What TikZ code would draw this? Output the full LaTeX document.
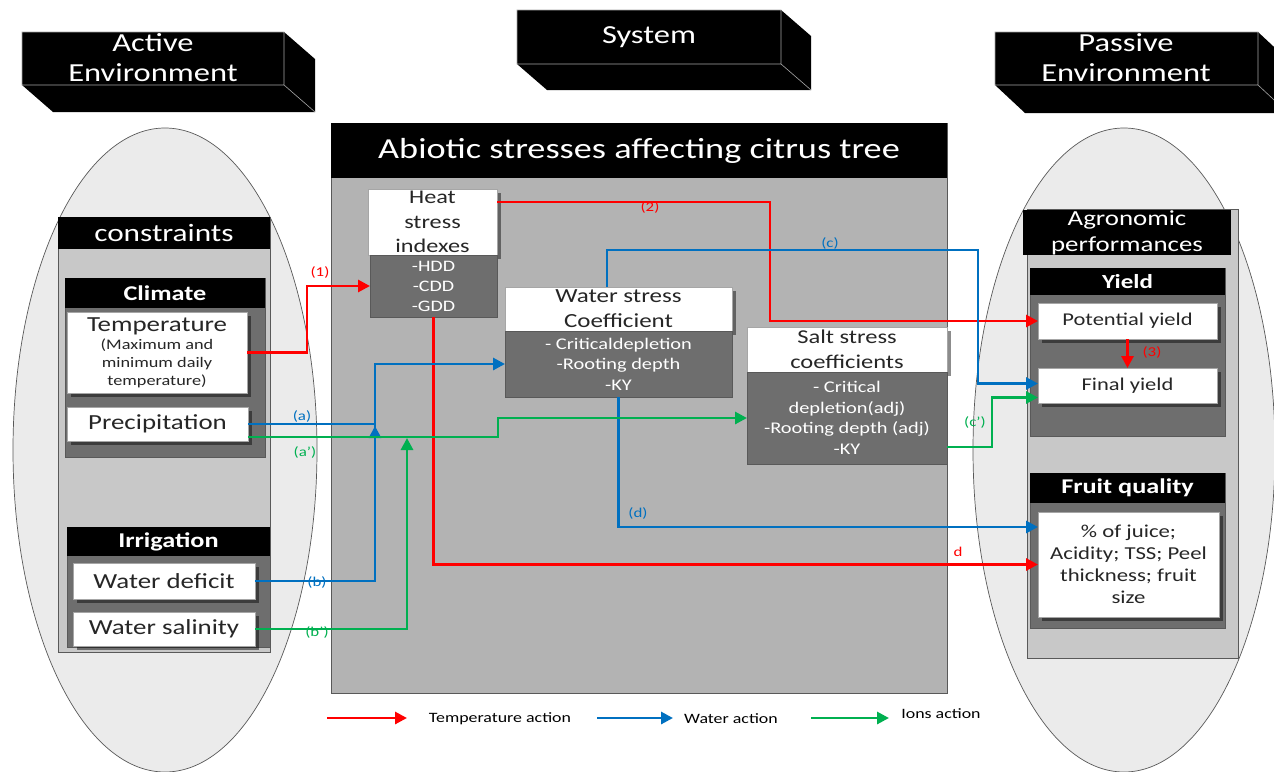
\documentclass[tikz,border=0pt]{standalone}
\usepackage{fontspec}
\setmainfont[FakeStretch=1.25]{Carlito}
\usetikzlibrary{arrows.meta,shadows}
\definecolor{tred}{HTML}{FF0000}
\definecolor{wblue}{HTML}{0070C0}
\definecolor{igreen}{HTML}{00B050}
\definecolor{panelc}{HTML}{C8C8C8}
\definecolor{grpc}{HTML}{6E6E6E}
\definecolor{bodyc}{HTML}{B3B3B3}
\definecolor{ellc}{HTML}{EBEBEB}
\definecolor{edgec}{HTML}{595959}
\newcommand\fsz[2]{\fontsize{#1}{#2}\selectfont}
\begin{document}
\begin{tikzpicture}[x=1pt,y=-1pt,
  every node/.style={inner sep=0pt,outer sep=0pt},
  wbox/.style={draw=gray!70,line width=0.6pt,fill=white,text=black!85,align=center,
    drop shadow={shadow xshift=4pt,shadow yshift=-4pt,fill=black,opacity=0.45}},
  dbox/.style={draw=edgec,line width=0.6pt,fill=grpc,text=white,align=center},
  bhdr/.style={fill=black,text=white,align=center},
  panel/.style={draw=edgec,line width=0.7pt,fill=panelc},
  grp/.style={draw=edgec,line width=0.6pt,fill=grpc},
  edge3d/.style={draw=gray!70,line width=0.6pt},
  conn/.style={line width=2.9pt},
  tmp/.style={conn,draw=tred},
  wat/.style={conn,draw=wblue},
  ion/.style={conn,draw=igreen},
  arr/.style={-{Triangle[length=12pt,width=12pt]}},
  lbl/.style={font=\fsz{13.5}{15}}
]
\useasboundingbox (0,0) rectangle (1274,771);
\clip (0,0) rectangle (1274,771);
\fill[white] (0,0) rectangle (1274,771);

% ellipses
\draw[edgec,line width=0.7pt,fill=ellc] (165,450) ellipse [x radius=152pt,y radius=322pt];
\draw[edgec,line width=0.7pt,fill=ellc] (1124,450) ellipse [x radius=151pt,y radius=322pt];

% 3D header boxes
\fill[black] (22,85) -- (53,112) -- (315,112) -- (315,59) -- (284,32) -- cycle;
\fill[black] (22,32) rectangle (284,85);
\draw[edge3d] (22,32) rectangle (284,85) (284,85) -- (315,112);
\node[text=white,align=center,font=\fsz{26}{30}] (active) at (153,58) {Active\\Environment};

\fill[black] (517,64) -- (547,90) -- (811,90) -- (811,36) -- (781,10) -- cycle;
\fill[black] (517,10) rectangle (781,64);
\draw[edge3d] (517,10) rectangle (781,64) (781,64) -- (811,90);
\node[text=white,font=\fsz{26}{30}] (system) at (649,37) {System};

\fill[black] (995,85) -- (1025,113) -- (1288,113) -- (1288,60) -- (1258,32) -- cycle;
\fill[black] (995,32) rectangle (1258,85);
\draw[edge3d] (995,32) rectangle (1258,85) (1258,85) -- (1288,113);
\node[text=white,align=center,font=\fsz{26}{30}] (passive) at (1126,58) {Passive\\Environment};

% system body
\draw[edgec,line width=0.8pt,fill=bodyc] (331,123) rectangle (947,693);
\node[bhdr,minimum width=616pt,minimum height=55pt,font=\fsz{29}{34}] (abio) at (639,150.5) {Abiotic stresses affecting citrus tree};

% left panel
\draw[panel] (58,217) rectangle (270,652);
\node[bhdr,minimum width=212pt,minimum height=32pt,font=\fsz{25}{28}] (constr) at (164,233) {constraints};
\draw[grp] (65,278) rectangle (265,457);
\node[bhdr,minimum width=200pt,minimum height=30pt,font=\bfseries\fsz{21}{24}] (climate) at (165,293) {Climate};
\node[wbox,minimum width=180pt,minimum height=81pt,font=\fsz{14.6}{18}] (temp) at (157,352.5)
  {{\fsz{21.5}{24}Temperature}\\(Maximum and\\minimum daily\\temperature)};
\node[wbox,minimum width=181pt,minimum height=34pt,font=\fsz{21.5}{24}] (prec) at (157.5,424) {Precipitation};
\draw[grp] (67,527) rectangle (270,647);
\node[bhdr,minimum width=203pt,minimum height=29pt,font=\bfseries\fsz{21}{24}] (irrig) at (168.5,541.5) {Irrigation};
\node[wbox,minimum width=182pt,minimum height=36pt,font=\fsz{21.5}{24}] (wd) at (164,581) {Water deficit};
\node[wbox,minimum width=182pt,minimum height=34pt,font=\fsz{21.5}{24}] (wsal) at (164,629) {Water salinity};

% system boxes
\node[wbox,minimum width=129pt,minimum height=66pt,font=\fsz{19.4}{24.5}] (heat) at (432.5,222) {Heat\\stress\\indexes};
\node[dbox,minimum width=127pt,minimum height=62pt,font=\fsz{16}{20}] (heatd) at (433.5,286) {-HDD\\-CDD\\-GDD};
\node[wbox,minimum width=227pt,minimum height=44pt,font=\fsz{20}{25}] (ws) at (618.5,309) {Water stress\\Coefficient};
\node[dbox,minimum width=227pt,minimum height=66pt,font=\fsz{16.3}{20.5}] (wsd) at (618.5,364) {- Criticaldepletion\\-Rooting depth\\-KY};
\node[wbox,minimum width=200pt,minimum height=45pt,font=\fsz{19.6}{25}] (ss) at (847,349.5) {Salt stress\\coefficients};
\node[dbox,minimum width=200pt,minimum height=92pt,font=\fsz{16.3}{20.5}] (ssd) at (847,418) {- Critical\\depletion(adj)\\-Rooting depth (adj)\\-KY};

% right panel
\draw[panel] (1027,209) rectangle (1238,658);
\node[bhdr,minimum width=208pt,minimum height=43pt,font=\fsz{21.5}{26}] (agro) at (1127,232.5) {Agronomic\\performances};
\draw[grp] (1030,268) rectangle (1225,436);
\node[bhdr,minimum width=195pt,minimum height=27pt,font=\bfseries\fsz{20}{24}] (yield) at (1127.5,281.5) {Yield};
\node[wbox,minimum width=179pt,minimum height=36pt,font=\fsz{18}{22}] (pot) at (1127.5,321) {Potential yield};
\node[wbox,minimum width=179pt,minimum height=35pt,font=\fsz{18}{22}] (final) at (1127.5,385.5) {Final yield};
\draw[grp] (1030,473) rectangle (1225,628);
\node[bhdr,minimum width=195pt,minimum height=30pt,font=\bfseries\fsz{21}{24}] (fq) at (1127.5,488) {Fruit quality};
\node[wbox,minimum width=181pt,minimum height=105pt,font=\fsz{18.2}{22}] (fruit) at (1128.5,564.5) {\% of juice;\\Acidity; TSS; Peel\\thickness; fruit\\size};

% connectors: temperature
\draw[tmp,arr] (temp.east) -- (307,352.5) |- (heatd.west);
\draw[tmp,arr] ([yshift=20pt]heat.east) -- (770,202) |- (pot.west);
\draw[tmp,arr] (heatd.south) |- (fruit.west);
\draw[tmp,arr] (pot.south) -- (final.north);

% connectors: water
\coordinate (ajoin) at (375,424);
\coordinate (bmid) at (375,470);
\coordinate (bup) at (375,426);
\draw[wat] (prec.east) -- (ajoin);
\draw[wat,arr] (wd.east) -- (375,581) |- (wsd.west);
\draw[wat,arr] (bmid) -- (bup);
\draw[wat,arr] ([xshift=-11.5pt]ws.north) -- (607,250) -- (978,250) |- ([yshift=2pt]final.west);
\draw[wat,arr] (wsd.south) |- ([yshift=37.5pt]fruit.west);

% connectors: ions
\coordinate (bjoin) at (407,438);
\draw[ion,arr] ([yshift=4pt]prec.south east) -- (498,437) |- (ssd.west);
\draw[ion,arr] (wsal.east) -- (407,629) -- (bjoin);
\draw[ion,arr] ([yshift=-29pt]ssd.east) -- (992,447) |- ([yshift=-12pt]final.west);

% labels
\node[lbl,text=tred] (l1) at (320,272) {(1)};
\node[lbl,text=tred] (l2) at (650,207) {(2)};
\node[lbl,text=tred] (l3) at (1152,352) {(3)};
\node[lbl,text=tred] (ld) at (958,552) {d};
\node[lbl,text=wblue] (la) at (302,416) {(a)};
\node[lbl,text=wblue] (lb) at (317,582) {(b)};
\node[lbl,text=wblue] (lc) at (830,243) {(c)};
\node[lbl,text=wblue] (ldd) at (638,513) {(d)};
\node[lbl,text=igreen] (lap) at (305,452) {(a')};
\node[lbl,text=igreen] (lbp) at (317,632) {(b')};
\node[lbl,text=igreen] (lcp) at (975,422) {(c')};

% legend
\coordinate (r1) at (327,718); \coordinate (r2) at (407,718);
\coordinate (b1) at (597,718); \coordinate (b2) at (673,718);
\coordinate (g1) at (811,718); \coordinate (g2) at (889,718);
\draw[tmp,arr] (r1) -- (r2);
\draw[wat,arr] (b1) -- (b2);
\draw[ion,arr] (g1) -- (g2);
\node[font=\fsz{14.3}{17}] (lt) at (500,719) {Temperature action};
\node[font=\fsz{14.3}{17}] (lw) at (731,719) {Water action};
\node[font=\fsz{14.3}{17}] (li) at (941,714) {Ions action};
\end{tikzpicture}
\end{document}
